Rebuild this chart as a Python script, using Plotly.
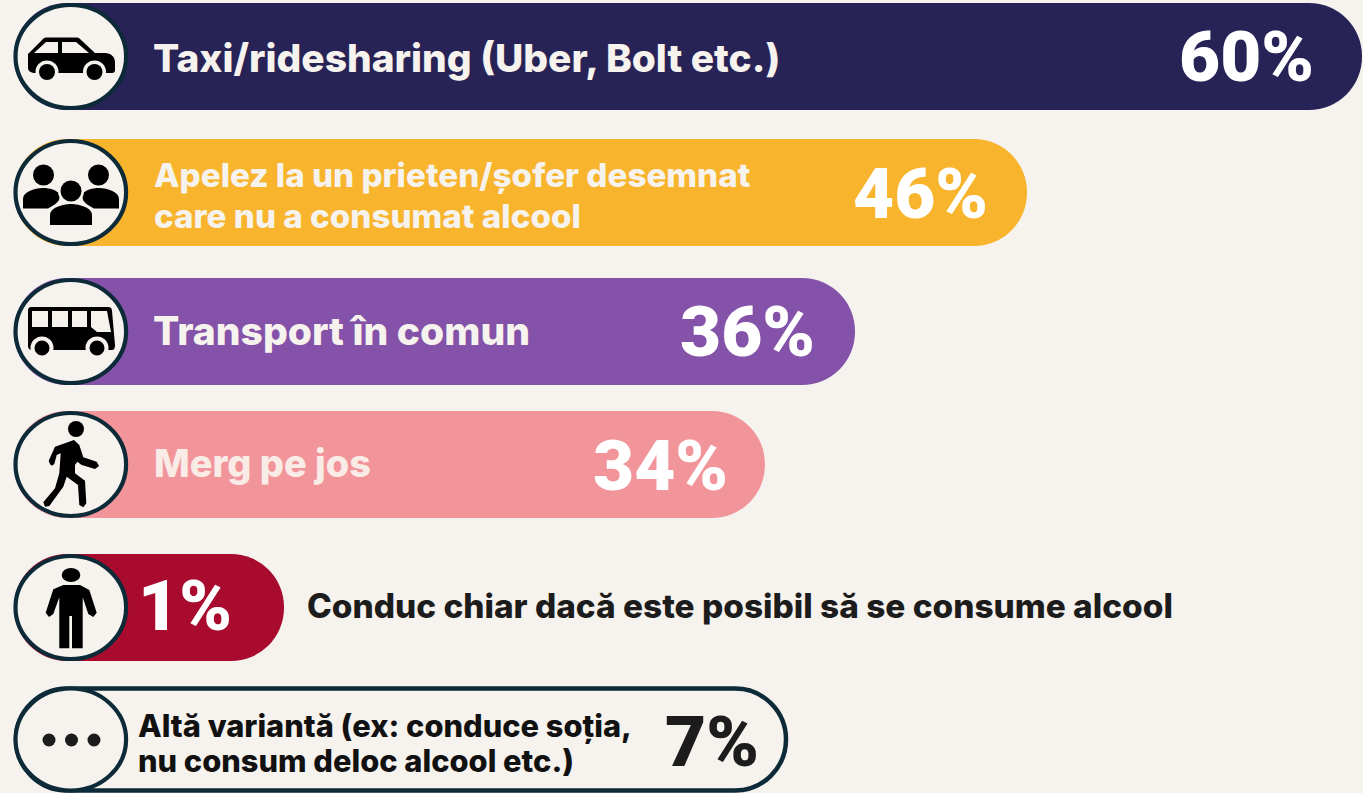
import plotly.graph_objects as go

# ---- data ----
categories = [
    "Taxi/ridesharing (Uber, Bolt etc.)",
    "Apelez la un prieten/șofer desemnat<br>care nu a consumat alcool",
    "Transport în comun",
    "Merg pe jos",
    "Conduc chiar dacă este posibil să se consume alcool",
    "Altă variantă (ex: conduce soția,<br>nu consum deloc alcool etc.)",
]
percent_values = [60, 46, 36, 34, 1, 7]
# the original pills are not proportional to the percentages: drawn lengths as read
drawn_lengths = [1348, 1013, 841, 751, 270, 770]

# ---- layout / style ----
W, H = 1363, 793
BG = "#F6F2EE"
OUT = "#0D2A38"
INK = "#1C1C1C"
FONT = "Inter"
PCT_FONT = "Roboto"
row_y = [56.5, 192.5, 331.5, 464.5, 607.5, 739.5]
row_h = [107, 107, 107, 107, 107, 102]
row_base = [14, 14, 14, 14, 14, 16]
colors = ["#282356", "#F8B42D", "#8452A8", "#F2959B", "#A90B2F", BG]
line_w = [0, 0, 0, 0, 0, 4.5]
label_style = [  # x, line centres, size, colour
    (151, [57], 38.9, BG), (151.5, [175, 216], 33.2, BG), (151, [330], 39, BG),
    (151.5, [463], 37.9, "#F9EBE6"), (305, [606], 33.4, INK), (135.5, [725, 760], 30.8, "#111111"),
]
pct_style = [  # x centre, y, size, colour
    (1246.5, 56, 71, "#FFFFFF"), (920.5, 193, 71, "#FFFFFF"), (747.5, 331, 71, "#FFFFFF"),
    (660, 465, 71, "#FFFFFF"), (185, 605, 71, "#FFFFFF"), (711.5, 741, 71, INK),
]

fig = go.Figure(go.Bar(
    y=row_y, x=drawn_lengths, base=row_base, orientation="h", width=row_h,
    marker=dict(color=colors, line=dict(color=OUT, width=line_w), cornerradius="50%"),
    customdata=percent_values, text=None, hovertemplate="%{customdata}%<extra></extra>",
))

shapes = []
def blob(path, color="#000000", lw=0, lc=None):
    shapes.append(dict(type="path", path=path, fillcolor=color, layer="above",
                       line=dict(width=lw, color=lc or color)))
def ell(cx, cy, rx, ry=None, color="#000000", lw=0, lc=None):
    ry = rx if ry is None else ry
    shapes.append(dict(type="circle", x0=cx-rx, x1=cx+rx, y0=cy-ry, y1=cy+ry, fillcolor=color,
                       layer="above", line=dict(width=lw, color=lc or color)))
def zpoly(pts, x0, y0):
    return "M" + " L".join(f"{x0+a/3:.1f},{y0+b/3:.1f}" for a, b in pts) + " Z"

# icon discs
for y, h in zip(row_y, [103, 103, 103, 103, 103, 102]):
    ell(70.8, y, 55.3, h/2, BG, 4.2, OUT)

# car
blob("M28,54 L43,39 C44,38 45,37.5 47,37.5 L76,37.5 C78,37.5 79,38 80,39 L95,53 L105,53 "
     "C111,53 115,57 115,62 L115,70 C115,72 114,73 112,73 L36,73 C31,73 28,71 28,68 Z")
blob("M34,53 L46,42 L58,42 L58,53 Z", BG)
blob("M62,42 L76,42 L89,53 L62,53 Z", BG)
for cx in (47, 94.5):
    ell(cx, 72, 11.5, color=BG)
    ell(cx, 72, 8)

# people
for m in (False, True):
    fx = (lambda v: 142 - v) if m else (lambda v: v)
    p = [(23, 208.5), (23, 199), (23, 192), (34, 188), (43, 188), (50, 188), (56, 190), (60, 194),
         (59, 200), (56, 205), (50, 207), (48, 208.5)]
    q = [f"{fx(a)},{b}" for a, b in p]
    blob(f"M{q[0]} L{q[1]} C{q[2]} {q[3]} {q[4]} C{q[5]} {q[6]} {q[7]} L{q[8]} C{q[9]} {q[10]} {q[11]} Z")
    ell(fx(43.5), 175, 10.5)
ell(71, 191, 13, color=BG)
blob("M50,225 L50,215 C50,208 62,204 71,204 C80,204 92,208 92,215 L92,225 Z", "#000000", 3, BG)
ell(71, 191, 10.5)
blob("M50,225 L50,215 C50,208 62,204 71,204 C80,204 92,208 92,215 L92,225 Z")

# bus
blob("M32,307 L108,307 C111,307 112,309 112,311 L115,345 C115,348 114,350 112,350 L32,350 "
     "C29,350 28,348 28,346 L28,311 C28,308 29,307 32,307 Z")
blob("M32,311 L48,311 L48,327 L32,327 Z", BG)
blob("M52,311 L68,311 L68,327 L52,327 Z", BG)
blob("M72,311 L87,311 L87,327 L72,327 Z", BG)
blob("M91,311 L107,311 L111,332 L97,332 L91,327 Z", BG)
for cx in (42, 97):
    ell(cx, 348, 11.5, color=BG)
    ell(cx, 348, 7.5)

# walker
ell(76, 429, 8)
blob(zpoly([(150, 583), (146, 572), (165, 530), (222, 510), (238, 525), (250, 562), (290, 575), (297, 588),
            (285, 597), (245, 585), (232, 575), (225, 585), (225, 610), (255, 632), (259, 700), (250, 712),
            (238, 705), (234, 645), (200, 620), (190, 650), (148, 708), (135, 710), (130, 697), (165, 655),
            (178, 610), (182, 550), (170, 555), (163, 582), (156, 587)], 0, 270))

# person
ell(71, 575, 9.3, 7)
blob(zpoly([(137, 218), (160, 148), (190, 135), (240, 135), (268, 150), (290, 218), (280, 231), (265, 222),
            (248, 172), (248, 325), (216, 325), (216, 228), (208, 228), (208, 325), (178, 325), (178, 172),
            (160, 222), (147, 231)], 0, 540))

# dots
for cx in (49, 71.5, 94):
    ell(cx, 740, 6.5, color=INK)

ann = []
for t, (x, ys, s, c) in zip(categories, label_style):
    for line, y in zip(t.split("<br>"), ys):
        ann.append(dict(x=x, y=y, text=line, xanchor="left", yanchor="middle", align="left", showarrow=False,
                        font=dict(family=FONT, size=s, color=c, weight=800)))
for v, (x, y, s, c) in zip(percent_values, pct_style):
    ann.append(dict(x=x, y=y, text=f"{v}%", xanchor="center", yanchor="middle", showarrow=False,
                    font=dict(family=PCT_FONT, size=s, color=c, weight=900)))

fig.update_layout(
    width=W, height=H, margin=dict(l=0, r=0, t=0, b=0), showlegend=False,
    paper_bgcolor=BG, plot_bgcolor=BG, shapes=shapes, annotations=ann,
    xaxis=dict(range=[0, W], visible=False, fixedrange=True),
    yaxis=dict(range=[H, 0], visible=False, fixedrange=True),
)
fig.write_html("out.html", config=dict(displayModeBar=False),
               post_script="document.body.style.margin='0';document.body.style.overflow='hidden';document.body.style.background='#F6F2EE';")
